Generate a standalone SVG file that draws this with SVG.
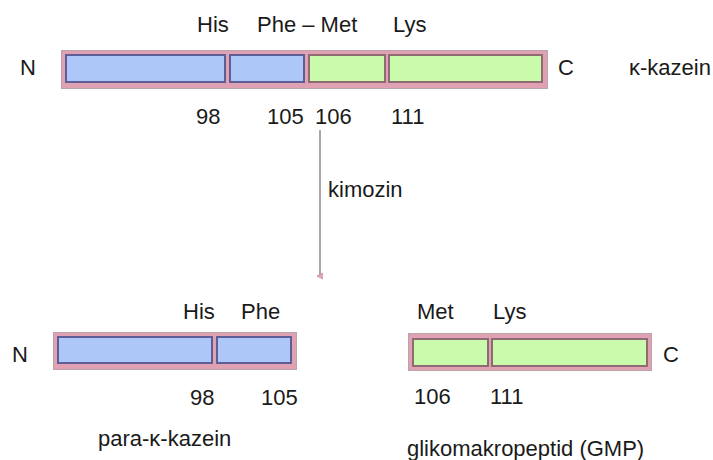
<svg xmlns="http://www.w3.org/2000/svg" width="713" height="460" viewBox="0 0 713 460">
<defs>
<style>
text{font-family:"Liberation Sans","Open Sans",sans-serif;font-size:22px;fill:#1a1a1a}
.outer{fill:#E0A2B3;stroke:#B9A4AA;stroke-width:1}
.blue{fill:#ADC7F9;stroke:#5E5E96;stroke-width:2}
.green{fill:#CAFAAB;stroke:#8E6A72;stroke-width:2}
.conn{stroke:#A8A8A8;stroke-width:2;fill:none}
</style>
<marker id="ah" markerWidth="8" markerHeight="8" refX="4" refY="4" orient="auto" markerUnits="userSpaceOnUse">
<path d="M1,1 L4,7 L7,1" fill="#E2A8B8" stroke="#D090A4" stroke-width="1"/>
</marker>
</defs>
<rect width="713" height="460" fill="#ffffff"/>
<g id="kappa-kazein">
<rect class="outer" x="61.5" y="50.5" width="486" height="38"/>
<rect class="blue" x="66" y="55" width="159" height="27"/>
<rect class="blue" x="230" y="55" width="74" height="27"/>
<rect class="green" x="309" y="55" width="76" height="27"/>
<rect class="green" x="389" y="55" width="153" height="27"/>
<text x="197" y="32">His</text>
<text x="257" y="32">Phe – Met</text>
<text x="393" y="32">Lys</text>
<text x="20" y="75">N</text>
<text x="558" y="75">C</text>
<text x="629" y="75">κ-kazein</text>
<text x="196" y="124">98</text>
<text x="267" y="124">105</text>
<text x="315" y="124">106</text>
<text x="391" y="124">111</text>
</g>
<g id="connectors">
<line class="conn" x1="320" y1="130" x2="320" y2="276" marker-end="url(#ah)"/>
<text x="328" y="197">kimozin</text>
</g>
<g id="para-kappa-kazein">
<rect class="outer" x="53.5" y="332.5" width="243" height="37"/>
<rect class="blue" x="58" y="337" width="154" height="26"/>
<rect class="blue" x="217" y="337" width="74" height="26"/>
<text x="183" y="319">His</text>
<text x="241" y="319">Phe</text>
<text x="12" y="362">N</text>
<text x="190" y="405">98</text>
<text x="261" y="405">105</text>
<text x="98" y="446">para-κ-kazein</text>
</g>
<g id="gmp">
<rect class="outer" x="408.5" y="333.5" width="243" height="37"/>
<rect class="green" x="413" y="339" width="75" height="27"/>
<rect class="green" x="492" y="339" width="155" height="27"/>
<text x="417" y="319">Met</text>
<text x="493" y="319">Lys</text>
<text x="663" y="362">C</text>
<text x="414" y="404">106</text>
<text x="490" y="404">111</text>
<text x="407" y="456">glikomakropeptid (GMP)</text>
</g>
</svg>
